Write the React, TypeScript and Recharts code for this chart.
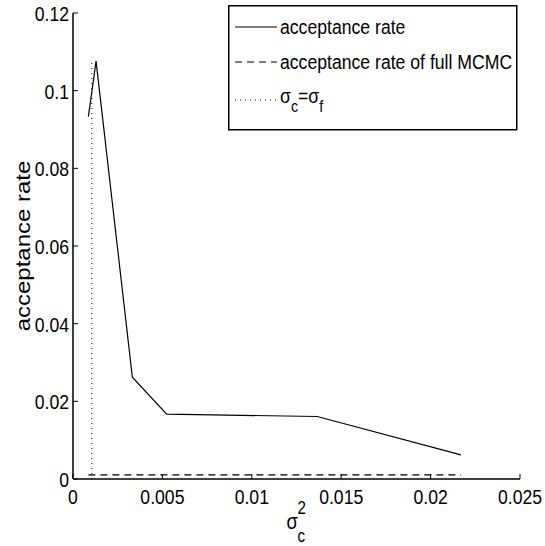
import React from "react";
import { LineChart, Line, XAxis, YAxis, Legend } from "recharts";

// coarse-model variance vs acceptance rate
const sigmaC2 = [0.00086, 0.00129, 0.00332, 0.00524, 0.01366, 0.0217];
const accRate = [0.0933, 0.1076, 0.0262, 0.0167, 0.0161, 0.0062];
const fullMcmcRate = 0.00105;
const fullMcmcSpan = [0.00086, 0.0217];
const sigmaF2 = 0.00105;
const sigmaF2Span = [0, 0.1076];

const xTicks = [0, 0.005, 0.01, 0.015, 0.02, 0.025];
const yTicks = [0, 0.02, 0.04, 0.06, 0.08, 0.1, 0.12];

const accData = sigmaC2.map((x, i) => ({ x, y: accRate[i] }));
const fullData = fullMcmcSpan.map((x) => ({ x, y: fullMcmcRate }));
const eqData = sigmaF2Span.map((y) => ({ x: sigmaF2, y }));

const FONT = "'Liberation Sans', Arial, Helvetica, sans-serif";
const FS = 21;
const SX = 0.84;
const TICK = 5;
const LW = 1.2;

function T({ x, y, anchor = "start", size = FS, children }: any) {
  return (
    <text
      transform={`translate(${x},${y}) scale(${SX},1)`}
      fontSize={size}
      textAnchor={anchor}
      fontFamily={FONT}
      fill="#000"
    >
      {children}
    </text>
  );
}

const BottomTick = (p: any) => (
  <g>
    <line x1={p.x} y1={p.y} x2={p.x} y2={p.y - TICK} stroke="#000" />
    <T x={p.x} y={p.y + 25} anchor="middle">{String(p.payload.value)}</T>
  </g>
);
const TopTick = (p: any) => (
  <line x1={p.x} y1={p.y} x2={p.x} y2={p.y + TICK} stroke="#000" />
);
const LeftTick = (p: any) => (
  <g>
    <line x1={p.x} y1={p.y} x2={p.x + TICK} y2={p.y} stroke="#000" />
    <T x={p.x - 4} y={p.y + 8} anchor="end">{String(p.payload.value)}</T>
  </g>
);
const RightTick = (p: any) => (
  <line x1={p.x} y1={p.y} x2={p.x - TICK} y2={p.y} stroke="#000" />
);

const LegendBox = () => (
  <svg width={290} height={126} style={{ display: "block" }}>
    <rect x={0.75} y={0.75} width={288} height={124} fill="#fff" stroke="#000" strokeWidth={1.5} />
    <line x1={7} y1={22} x2={49} y2={22} stroke="#000" strokeWidth={LW} />
    <T x={52} y={29}>acceptance rate</T>
    <line x1={7} y1={57} x2={49} y2={57} stroke="#000" strokeWidth={LW} strokeDasharray="7 5" />
    <T x={52} y={64}>acceptance rate of full MCMC</T>
    <line x1={7} y1={95} x2={49} y2={95} stroke="#000" strokeDasharray="1 4" />
    <T x={52} y={98}>
      σ<tspan dy={9} fontSize={17}>c</tspan>
      <tspan dy={-9}>=σ</tspan>
      <tspan dy={9} fontSize={17}>f</tspan>
    </T>
  </svg>
);

export default function App() {
  return (
    <div style={{ position: "absolute", left: 0, top: 0, background: "#fff" }}>
      <LineChart width={545} height={546} margin={{ top: 13, right: 25, bottom: 0, left: 0 }}>
        <XAxis
          xAxisId={0}
          type="number"
          dataKey="x"
          domain={[0, 0.025]}
          ticks={xTicks}
          height={67}
          tickSize={0}
          tickMargin={0}
          tickLine={false}
          axisLine={{ stroke: "#000", strokeWidth: 1.5 }}
          tick={BottomTick}
          interval={0}
          label={{
            content: (props: any) => {
              const vb = props.viewBox;
              const cx = vb.x + vb.width / 2;
              return (
                <g>
                  <T x={cx - 10} y={vb.y + 50} size={22}>σ</T>
                  <T x={cx + 1} y={vb.y + 35} size={18}>2</T>
                  <T x={cx + 1} y={vb.y + 63} size={18}>c</T>
                </g>
              );
            },
          }}
        />
        <XAxis
          xAxisId="top"
          orientation="top"
          type="number"
          domain={[0, 0.025]}
          ticks={xTicks}
          height={0}
          tickSize={0}
          tickMargin={0}
          tickLine={false}
          axisLine={{ stroke: "#000", strokeWidth: 1.5 }}
          tick={TopTick}
          interval={0}
        />
        <YAxis
          yAxisId={0}
          type="number"
          domain={[0, 0.12]}
          ticks={yTicks}
          width={73}
          tickSize={0}
          tickMargin={0}
          tickLine={false}
          axisLine={{ stroke: "#000", strokeWidth: 1.5 }}
          tick={LeftTick}
          interval={0}
          label={{
            content: (props: any) => {
              const vb = props.viewBox;
              const cy = vb.y + vb.height / 2;
              return (
                <text
                  transform={`translate(30,${cy}) rotate(-90) scale(1.2,1)`}
                  fontSize={20}
                  textAnchor="middle"
                  fontFamily={FONT}
                  fill="#000"
                >
                  acceptance rate
                </text>
              );
            },
          }}
        />
        <YAxis
          yAxisId="right"
          orientation="right"
          type="number"
          domain={[0, 0.12]}
          ticks={yTicks}
          width={0}
          tickSize={0}
          tickMargin={0}
          tickLine={false}
          axisLine={{ stroke: "#000", strokeWidth: 1.5 }}
          tick={RightTick}
          interval={0}
        />
        <Line
          data={accData}
          dataKey="y"
          stroke="#000"
          strokeWidth={LW}
          dot={false}
          isAnimationActive={false}
        />
        <Line
          data={fullData}
          dataKey="y"
          stroke="#000"
          strokeWidth={LW}
          strokeDasharray="7 5"
          dot={false}
          isAnimationActive={false}
        />
        <Line
          data={eqData}
          dataKey="y"
          stroke="#000"
          strokeWidth={1}
          strokeDasharray="1 4"
          dot={false}
          isAnimationActive={false}
        />
        <Legend
          layout="vertical"
          align="center"
          verticalAlign="middle"
          content={() => <LegendBox />}
          wrapperStyle={{ left: 228, top: 5, width: 290, height: 126 }}
        />
      </LineChart>
    </div>
  );
}
